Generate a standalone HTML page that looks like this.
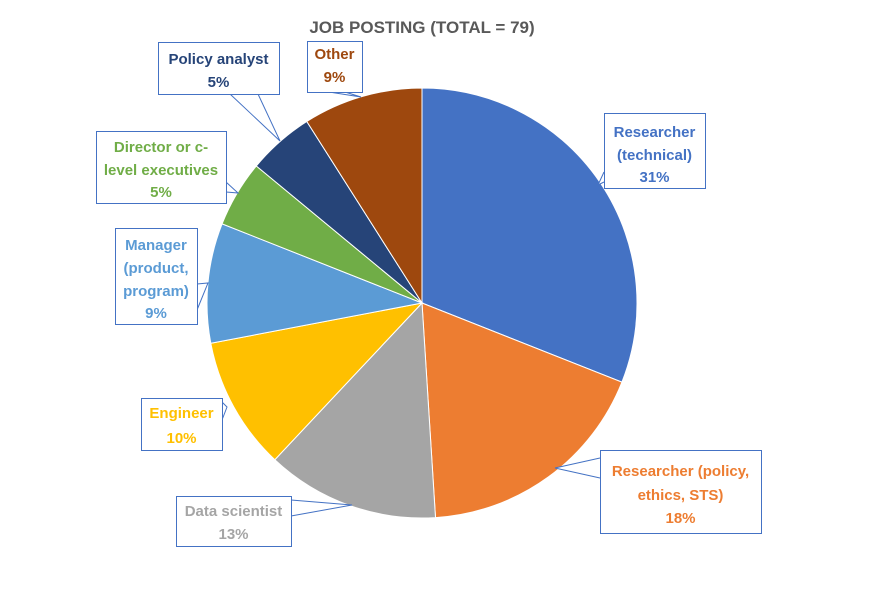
<!DOCTYPE html>
<html><head><meta charset="utf-8"><style>
html,body{margin:0;padding:0;background:#fff}
svg{display:block;font-family:"Liberation Sans",sans-serif}
</style></head><body>
<svg id="c" width="894" height="589" viewBox="0 0 894 589">
<text x="422" y="33" text-anchor="middle" font-size="17" font-weight="bold" fill="#595959">JOB POSTING (TOTAL = 79)</text>
<g id="slices"></g>
<g id="labels"></g>
</svg>
<script>
const categories = ["Researcher (technical)","Researcher (policy, ethics, STS)","Data scientist","Engineer","Manager (product, program)","Director or c-level executives","Policy analyst","Other"];
const values = [31,18,13,10,9,5,5,9];
const colors = ["#4472C4","#ED7D31","#A5A5A5","#FFC000","#5B9BD5","#70AD47","#264478","#9E480E"];
const cx=422, cy=303, r=215;
const NS="http://www.w3.org/2000/svg";
const total=values.reduce((a,b)=>a+b,0);
const sg=document.getElementById('slices');
let a0=0;
values.forEach((v,i)=>{
  const a1=a0+v/total*2*Math.PI;
  const x0=cx+r*Math.sin(a0), y0=cy-r*Math.cos(a0);
  const x1=cx+r*Math.sin(a1), y1=cy-r*Math.cos(a1);
  const p=document.createElementNS(NS,'path');
  p.setAttribute('d',`M${cx},${cy}L${x0},${y0}A${r},${r} 0 ${a1-a0>Math.PI?1:0} 1 ${x1},${y1}Z`);
  p.setAttribute('fill',colors[i]);
  p.setAttribute('stroke','#fff');
  p.setAttribute('stroke-width','1');
  
  
  sg.appendChild(p);
  a0=a1;
});
// label boxes: [x,y,w,h, lines, line ys, leader polyline]
const boxes=[
 [604,113,101,75,["Researcher","(technical)","31%"],[137,160,182],"604,172 598,185 604,182"],
 [600,450,161,83,["Researcher (policy,","ethics, STS)","18%"],[476,500,523],"600,458 555,468 600,478"],
 [176,496,115,50,["Data scientist","13%"],[516,539],"291,500 352,505 291,516"],
 [141,398,81,52,["Engineer","10%"],[418,443],"222,402 227,407 222,420"],
 [115,228,82,96,["Manager","(product,","program)","9%"],[250,273,296,318],"197,284 208,283 197,310"],
 [96,131,130,72,["Director or c-","level executives","5%"],[152,175,197],"226,182 238,193 226,192"],
 [158,42,121,52,["Policy analyst","5%"],[64,87],"230,94 280,141 258,94"],
 [307,41,55,51,["Other","9%"],[59,82],"329,92 361,97 345,92"]
];
const lg=document.getElementById('labels');
boxes.forEach((b,i)=>{
  const g=document.createElementNS(NS,'g');
  
  
  const pl=document.createElementNS(NS,'polyline');
  pl.setAttribute('points',b[5+1]);
  pl.setAttribute('fill','#fff');
  pl.setAttribute('stroke','#4472C4');
  pl.setAttribute('stroke-width','1');
  g.appendChild(pl);
  const rc=document.createElementNS(NS,'rect');
  rc.setAttribute('x',b[0]+.5);rc.setAttribute('y',b[1]+.5);
  rc.setAttribute('width',b[2]);rc.setAttribute('height',b[3]);
  rc.setAttribute('fill','#fff');rc.setAttribute('stroke','#4472C4');
  g.appendChild(rc);
  b[4].forEach((t,j)=>{
    const tx=document.createElementNS(NS,'text');
    tx.setAttribute('x',b[0]+b[2]/2);
    tx.setAttribute('y',b[5][j]);
    tx.setAttribute('text-anchor','middle');
    tx.setAttribute('font-size','15');
    tx.setAttribute('font-weight','bold');
    tx.setAttribute('fill',colors[i]);
    tx.textContent=j===b[4].length-1?Math.round(values[i]/total*100)+'%':t;
    g.appendChild(tx);
  });
  lg.appendChild(g);
});
</script>
</body></html>
